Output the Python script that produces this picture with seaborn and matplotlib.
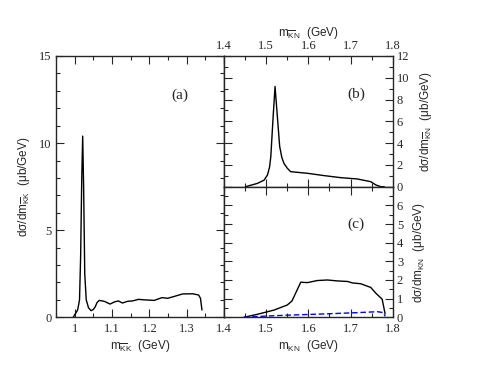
"""
plot.py
Invariant mass distributions: (a) K-bar K, (b) K-bar N, (c) K N.
"""

import pandas as pd
import matplotlib
matplotlib.use("Agg")
import matplotlib.pyplot as plt
from matplotlib.ticker import MultipleLocator, FuncFormatter
import seaborn as sns

# (a) dsigma/dm_KbarK
mkk = [0.996, 1.008, 1.013, 1.016, 1.019, 1.0215, 1.024, 1.027, 1.031, 1.037,
       1.044, 1.050, 1.055, 1.060, 1.066, 1.079, 1.095, 1.106, 1.117, 1.128,
       1.142, 1.155, 1.171, 1.188, 1.213, 1.234, 1.249, 1.267, 1.289, 1.316,
       1.332, 1.337, 1.341]
sig_kk = [0.0, 0.42, 1.0, 3.5, 8.0, 10.4, 7.5, 2.5, 1.0, 0.55,
          0.38, 0.45, 0.6, 0.85, 0.97, 0.92, 0.76, 0.88, 0.94, 0.82,
          0.92, 0.94, 1.03, 1.0, 0.97, 1.13, 1.09, 1.2, 1.34, 1.35,
          1.28, 1.09, 0.42]

# (b) dsigma/dm_KbarN
mkbn = [1.451, 1.479, 1.495, 1.503, 1.508, 1.511, 1.516, 1.521, 1.526, 1.532,
        1.537, 1.542, 1.550, 1.558, 1.598, 1.637, 1.677, 1.716, 1.748, 1.760,
        1.772, 1.780]
sig_kbn = [0.0, 0.3, 0.6, 1.07, 1.8, 2.76, 6.1, 9.2, 6.7, 3.7,
           2.7, 2.15, 1.7, 1.38, 1.23, 1.02, 0.83, 0.71, 0.46, 0.16,
           0.0, 0.0]

# (c) dsigma/dm_KN, full (solid) and partial (dashed)
mkn = [1.447, 1.479, 1.519, 1.550, 1.561, 1.582, 1.598, 1.621, 1.645, 1.669,
       1.693, 1.705, 1.724, 1.748, 1.760, 1.775, 1.782]
sig_kn = [0.0, 0.16, 0.39, 0.66, 0.87, 1.88, 1.86, 1.97, 2.0, 1.95,
          1.92, 1.84, 1.8, 1.6, 1.29, 0.97, 0.18]
mkn2 = [1.447, 1.503, 1.558, 1.637, 1.716, 1.764, 1.778, 1.782]
sig_kn2 = [0.0, 0.07, 0.12, 0.18, 0.25, 0.3, 0.25, 0.05]

sns.set_style("ticks")
plt.rcParams["font.family"] = ["Liberation Serif", "DejaVu Serif"]
plt.rcParams["mathtext.default"] = "regular"

LAB = dict(family=["Liberation Sans", "DejaVu Sans"], fontsize=8.5)


def style(ax):
    ax.tick_params(which="both", direction="in", top=True, right=True,
                   bottom=True, left=True, labelsize=9, pad=3, width=0.8)
    ax.tick_params(which="major", length=6)
    ax.tick_params(which="minor", length=3)
    for sp in ax.spines.values():
        sp.set_linewidth(1.0)
    ax.set_xlabel("")
    ax.set_ylabel("")


fig = plt.figure(figsize=(4.84, 3.74), dpi=100)
axa = fig.add_axes([0.1157, 0.1516, 0.3471, 0.6987])
axb = fig.add_axes([0.4628, 0.5008, 0.3486, 0.3495])
axc = fig.add_axes([0.4628, 0.1516, 0.3486, 0.3492])

# panel (a)
df_a = pd.DataFrame({"m": mkk, "s": sig_kk})
sns.lineplot(data=df_a, x="m", y="s", ax=axa, color="black", lw=1.0,
             estimator=None, sort=False)
style(axa)
axa.set_xlim(0.95, 1.4)
axa.set_ylim(0, 15)
axa.xaxis.set_major_locator(MultipleLocator(0.1))
axa.xaxis.set_minor_locator(MultipleLocator(0.05))
axa.yaxis.set_major_locator(MultipleLocator(5))
axa.yaxis.set_minor_locator(MultipleLocator(1))
axa.xaxis.set_major_formatter(FuncFormatter(lambda v, p: f"{v:g}"))
axa.tick_params(axis="x", pad=4)
axa.set_xlabel(r"m$_{\overline{K}K}$  (GeV)", labelpad=2, **LAB)
axa.set_ylabel(r"d$\sigma$/dm$_{\overline{K}K}$  ($\mu$b/GeV)", labelpad=5, **LAB)
axa.text(0.738, 0.851, "(a)", transform=axa.transAxes, ha="center",
         va="center", fontsize=11)

# panel (b)
df_b = pd.DataFrame({"m": mkbn, "s": sig_kbn})
sns.lineplot(data=df_b, x="m", y="s", ax=axb, color="black", lw=1.0,
             estimator=None, sort=False)
style(axb)
axb.set_xlim(1.4, 1.8)
axb.set_ylim(0, 12)
axb.xaxis.set_major_locator(MultipleLocator(0.1))
axb.xaxis.set_minor_locator(MultipleLocator(0.05))
axb.yaxis.set_major_locator(MultipleLocator(2))
axb.yaxis.set_minor_locator(MultipleLocator(1))
axb.xaxis.set_major_formatter(FuncFormatter(lambda v, p: f"{v:g}"))
axb.tick_params(labeltop=True, labelbottom=False, labelleft=False, labelright=True)
axb.xaxis.set_label_position("top")
axb.yaxis.set_label_position("right")
axb.set_xlabel(r"m$_{\overline{K}N}$  (GeV)", labelpad=3, **LAB)
axb.set_ylabel(r"d$\sigma$/dm$_{\overline{K}N}$  ($\mu$b/GeV)", labelpad=6,
               rotation=90, **LAB)
axb.text(0.782, 0.71, "(b)", transform=axb.transAxes, ha="center",
         va="center", fontsize=11)

# panel (c)
df_c = pd.DataFrame({"m": mkn, "s": sig_kn})
df_c2 = pd.DataFrame({"m": mkn2, "s": sig_kn2})
sns.lineplot(data=df_c, x="m", y="s", ax=axc, color="black", lw=1.0,
             estimator=None, sort=False)
sns.lineplot(data=df_c2, x="m", y="s", ax=axc, color="#0000ff", lw=1.0,
             linestyle=(0, (4, 2)), estimator=None, sort=False)
style(axc)
axc.set_xlim(1.4, 1.8)
axc.set_ylim(0, 7)
axc.xaxis.set_major_locator(MultipleLocator(0.1))
axc.xaxis.set_minor_locator(MultipleLocator(0.05))
axc.yaxis.set_major_locator(MultipleLocator(1))
axc.yaxis.set_minor_locator(MultipleLocator(0.5))
axc.xaxis.set_major_formatter(
    FuncFormatter(lambda v, p: "" if abs(v - 1.4) < 1e-6 else f"{v:g}"))
axc.yaxis.set_major_formatter(
    FuncFormatter(lambda v, p: "" if v > 6.5 else f"{v:g}"))
axc.tick_params(labelleft=False, labelright=True)
axc.tick_params(axis="x", pad=4)
axc.yaxis.set_label_position("right")
axc.set_xlabel(r"m$_{KN}$  (GeV)", labelpad=2, **LAB)
axc.set_ylabel(r"d$\sigma$/dm$_{KN}$  ($\mu$b/GeV)", labelpad=6,
               rotation=90, **LAB)
axc.text(0.782, 0.714, "(c)", transform=axc.transAxes, ha="center",
         va="center", fontsize=11)

fig.savefig("out.png", dpi=100)
plt.close(fig)
